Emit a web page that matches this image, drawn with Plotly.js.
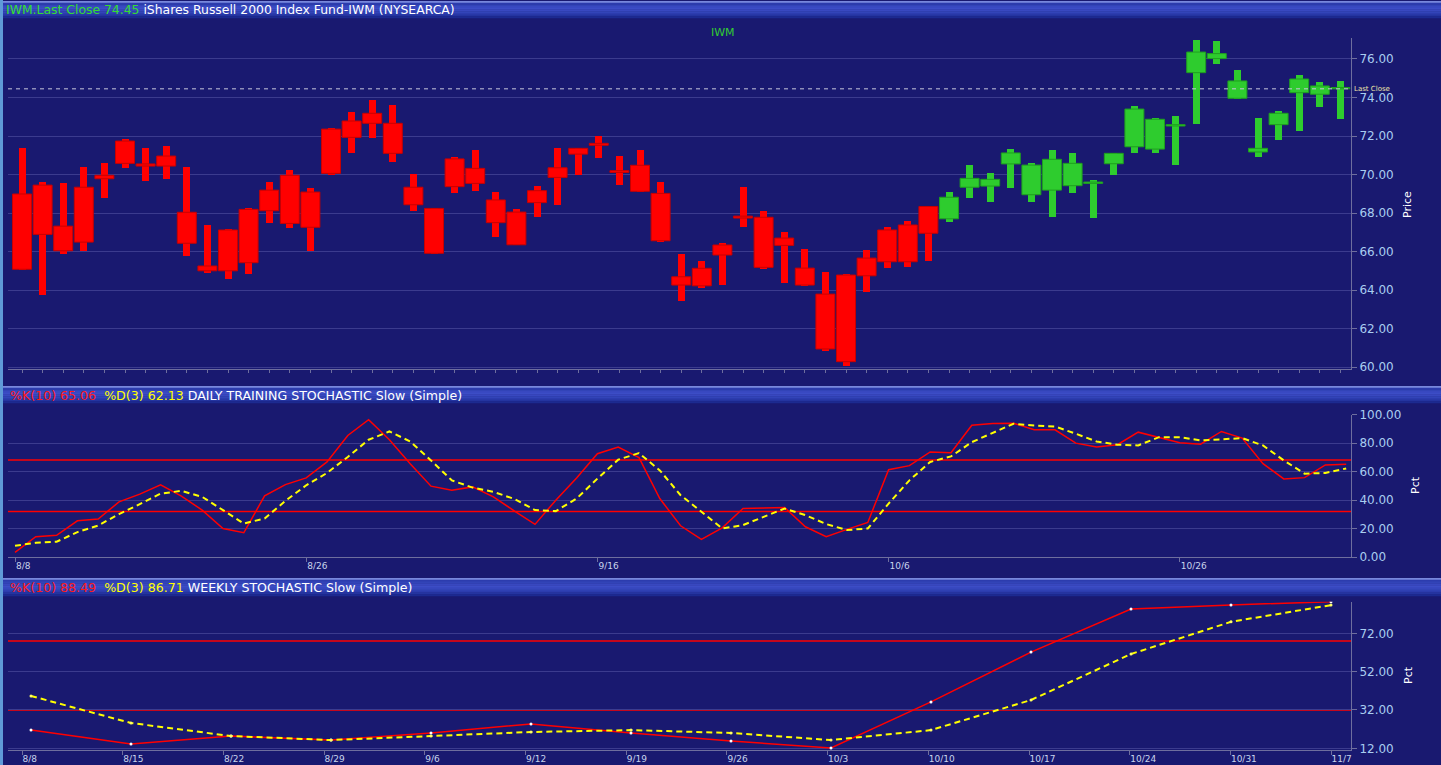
<!DOCTYPE html>
<html><head><meta charset="utf-8">
<script src="https://cdn.plot.ly/plotly-3.0.1.min.js"></script>
<style>html,body{margin:0;padding:0;background:#191970;overflow:hidden}#chart{width:1441px;height:765px}</style>
</head><body><div id="chart"></div>
<script>
// ---------- DATA ----------
const symbol = 'IWM';
const fundName = 'iShares Russell 2000 Index Fund-IWM (NYSEARCA)';
const dates = ['8/8','8/9','8/10','8/11','8/12','8/15','8/16','8/17','8/18','8/19','8/22','8/23','8/24','8/25','8/26','8/29','8/30','8/31',
 '9/1','9/2','9/6','9/7','9/8','9/9','9/12','9/13','9/14','9/15','9/16','9/19','9/20','9/21','9/22','9/23','9/26','9/27','9/28','9/29','9/30',
 '10/3','10/4','10/5','10/6','10/7','10/10','10/11','10/12','10/13','10/14','10/17','10/18','10/19','10/20','10/21','10/24','10/25','10/26','10/27','10/28','10/31',
 '11/1','11/2','11/3','11/4','11/7'];
const open  = [68.99,69.45,67.32,69.34,69.96,71.74,70.55,70.96,68.04,65.25,67.12,68.19,69.19,69.96,69.09,72.36,72.78,73.18,72.66,69.34,
 68.24,70.81,70.32,68.68,68.05,69.16,70.35,71.36,71.62,70.20,70.48,69.02,64.69,65.13,66.34,67.84,67.78,66.70,65.14,63.79,
 64.78,65.66,67.12,67.38,68.34,67.70,69.34,69.40,70.55,68.95,69.19,69.42,69.54,70.56,71.44,71.32,72.52,75.29,76.02,73.96,
 71.17,72.59,74.25,74.17,74.52];
const close = [65.08,66.89,66.04,66.49,69.78,70.58,70.44,70.44,66.43,65.00,65.00,65.42,68.12,67.46,67.26,70.06,71.93,72.66,71.10,68.43,
 65.91,69.37,69.54,67.50,66.35,68.54,69.85,71.06,71.52,70.11,69.13,66.56,64.26,64.22,65.82,67.74,65.18,66.32,64.26,60.94,
 60.28,64.74,65.47,65.47,66.95,68.82,69.80,69.75,71.12,70.49,70.79,70.58,69.61,71.10,73.40,72.87,72.59,76.36,76.28,74.86,
 71.36,73.18,74.96,74.60,74.45];
const high  = [71.39,69.61,69.54,70.41,70.58,71.83,71.39,71.50,70.37,67.38,67.17,68.28,69.61,70.25,69.28,72.40,73.25,73.87,73.61,70.01,
 68.28,70.89,71.27,69.11,68.21,69.42,71.38,71.39,72.00,70.98,71.26,69.59,65.87,65.49,66.44,69.35,68.10,67.00,66.13,64.92,
 64.83,66.09,67.27,67.58,68.36,69.09,70.51,70.08,71.32,70.60,71.27,71.13,69.71,71.13,73.56,72.92,73.04,76.97,76.92,75.43,
 72.95,73.30,75.18,74.82,74.86];
const low   = [65.05,63.74,65.85,66.04,68.80,70.35,69.65,69.75,65.78,64.87,64.56,64.83,67.50,67.24,66.04,70.00,71.12,71.91,70.67,68.09,
 65.88,69.05,69.16,66.74,66.33,67.81,68.43,69.97,70.87,69.44,69.10,66.51,63.44,64.09,64.26,67.26,65.09,64.35,64.22,60.83,
 60.07,63.91,65.14,65.18,65.52,67.53,68.80,68.56,69.28,68.59,67.81,69.05,67.72,69.99,71.13,71.13,70.51,72.62,75.74,73.92,
 70.93,71.81,72.28,73.52,72.88];
const trendUpFrom = '10/11';   // candles drawn green from this session on

const dailyK = [3.3,14.2,15.2,25.4,26.6,38.7,44.1,50.6,42.7,32.9,20.0,17.0,42.9,50.8,55.5,66.7,85.3,96.3,82.3,65.5,
 49.7,46.9,49.2,42.2,32.4,22.9,39.9,55.5,72.5,77.2,69.7,41.0,21.9,12.4,20.5,34.0,34.3,34.7,21.2,14.2,
 19.4,24.2,61.3,64.1,73.7,73.2,92.5,93.7,93.9,89.3,89.3,79.9,77.2,78.8,87.6,84.1,80.2,79.2,88.1,83.4,
 65.5,54.8,55.7,64.6,65.06];
const dailyD = [7.9,10.0,10.7,17.5,22.1,30.1,37.1,44.5,46.4,42.2,32.9,23.5,27.0,39.4,50.3,59.0,70.2,82.3,88.1,81.1,
 67.8,53.8,48.7,45.7,40.8,32.9,32.2,41.0,55.0,68.3,72.9,60.8,43.4,31.7,20.0,22.4,28.2,34.0,29.4,23.1,
 18.9,20.0,37.5,53.8,66.7,70.6,80.6,87.2,93.5,92.3,91.6,86.5,81.1,78.8,78.3,84.1,84.1,81.8,82.5,83.4,
 78.3,67.8,58.5,59.0,62.13];

const weeks = ['8/8','8/15','8/22','8/29','9/6','9/12','9/19','9/26','10/3','10/10','10/17','10/24','10/31','11/7'];
const weeklyK = [21.5,14.2,18.4,16.3,20.0,24.7,20.0,15.8,12.2,36.2,62.2,84.7,86.8,88.49];
const weeklyD = [39.3,25.2,18.4,16.3,18.4,20.5,21.5,20.0,16.3,21.5,37.2,61.2,78.0,86.71];

const stochBands = [68, 32];
const priceTicks = [60,62,64,66,68,70,72,74,76];
const dailyTicks = [0,20,40,60,80,100];
const weeklyTicks = [12,32,52,72];
const dailyLabelDates = ['8/8','8/26','9/16','10/6','10/26'];

// ---------- helpers ----------
const W = 1441, H = 765;
const px = v => v / W;
const py = v => 1 - v / H;
const idx = dates.map((_, i) => i);
const wIdx = weeks.map((_, i) => i);
const upStart = dates.indexOf(trendUpFrom);
const isUp = idx.map(i => i >= upStart);
const RED = '#ff0000', RED_EDGE = '#c80000', GREEN = '#2ecc2e', GREEN_EDGE = '#1f9f1f';
const lastClose = close[close.length - 1];
const font = 'DejaVu Sans, Verdana, sans-serif';

const bodyBase = idx.map(i => Math.min(open[i], close[i]));
const bodyH = idx.map(i => Math.abs(open[i] - close[i]));

const traces = [
  { type: 'bar', x: idx, base: low, y: idx.map(i => high[i] - low[i]), width: 0.34,
    marker: { color: idx.map(i => isUp[i] ? GREEN : RED), line: { width: 0 } },
    xaxis: 'x', yaxis: 'y', hoverinfo: 'skip', showlegend: false },
  { type: 'bar', x: idx, base: bodyBase, y: bodyH, width: 0.92,
    marker: { color: idx.map(i => isUp[i] ? GREEN : RED),
              line: { width: 1, color: idx.map(i => isUp[i] ? GREEN_EDGE : RED_EDGE) } },
    customdata: dates, xaxis: 'x', yaxis: 'y', showlegend: false },
  { type: 'scatter', mode: 'lines', x: idx, y: dailyK, line: { color: '#ff0000', width: 1.5 },
    xaxis: 'x2', yaxis: 'y2', showlegend: false },
  { type: 'scatter', mode: 'lines', x: idx, y: dailyD, line: { color: '#ffff00', width: 2, dash: '6px,4px' },
    xaxis: 'x2', yaxis: 'y2', showlegend: false },
  { type: 'scatter', mode: 'lines+markers', x: wIdx, y: weeklyK,
    line: { color: '#ff0000', width: 1.5 }, marker: { size: 3, color: '#ffffff' },
    xaxis: 'x3', yaxis: 'y3', showlegend: false },
  { type: 'scatter', mode: 'lines+markers', x: wIdx, y: weeklyD,
    line: { color: '#ffff00', width: 2, dash: '6px,4px' }, marker: { size: 3, color: '#ffff66' },
    xaxis: 'x3', yaxis: 'y3', showlegend: false },
  // carrier for the weekly date-label axis (draws nothing)
  { type: 'scatter', mode: 'none', x: wIdx, y: weeklyK, xaxis: 'x4', yaxis: 'y3', hoverinfo: 'skip', showlegend: false }
];

const xDom = [px(8), px(1351)];
const gridC = '#3b3b8e', axC = '#6e6e9e', tickFontY = { family: font, size: 12, color: '#a9cdf0' },
      tickFontX = { family: font, size: 9, color: '#c8d4ec' };
const yCommon = { side: 'right', showgrid: true, gridcolor: gridC, gridwidth: 1, showline: true, linecolor: axC,
  ticks: 'outside', ticklen: 5, tickcolor: axC, tickfont: tickFontY, zeroline: false, fixedrange: true };

// header bars (gradient imitation)
const shapes = [];
const barCols = ['#7888dc','#2c3cae','#3244b8','#3848c0','#3c4dc6','#3848c0','#3244b8','#2c3cae','#2434a0','#1c2a90'];
function headerBar(y0, y1) {
  const n = barCols.length, h = (y1 - y0) / n;
  barCols.forEach((c, k) => shapes.push({ type: 'rect', xref: 'paper', yref: 'paper', layer: 'below',
    x0: 0, x1: 1, y0: py(y0 + k * h), y1: py(y0 + (k + 1) * h + 0.3), line: { width: 0 }, fillcolor: c }));
}
headerBar(1, 18);
headerBar(386, 403);
headerBar(578, 596);
// left frame edge
shapes.push({ type: 'rect', xref: 'paper', yref: 'paper', x0: 0, x1: px(3), y0: 0, y1: 1, line: { width: 0 }, fillcolor: '#5f9ad8', layer: 'above' });
// stochastic bands
stochBands.forEach(v => {
  shapes.push({ type: 'line', xref: 'paper', yref: 'y2', x0: xDom[0], x1: xDom[1], y0: v, y1: v, line: { color: '#ff0000', width: 1.5 }, layer: 'below' });
  shapes.push({ type: 'line', xref: 'paper', yref: 'y3', x0: xDom[0], x1: xDom[1], y0: v, y1: v, line: { color: '#ff0000', width: 1.5 }, layer: 'below' });
});
// last close line
shapes.push({ type: 'line', xref: 'paper', yref: 'y', x0: xDom[0], x1: xDom[1], y0: lastClose, y1: lastClose,
  line: { color: '#c8c8dc', width: 1, dash: '4px,4px' } });

const sp = '\u00a0';
const annotations = [
  { xref: 'paper', yref: 'paper', x: px(4), y: py(10), xanchor: 'left', yanchor: 'middle', showarrow: false,
    font: { family: font, size: 12.4, color: '#ffffff' },
    text: `<span style="color:#33dd33">${symbol}.Last Close ${lastClose.toFixed(2)}</span> ${fundName}` },
  { xref: 'paper', yref: 'paper', x: px(8), y: py(395), xanchor: 'left', yanchor: 'middle', showarrow: false,
    font: { family: font, size: 12.6, color: '#ffffff' },
    text: `<span style="color:#ff1a1a">%K(10) ${dailyK[dailyK.length-1].toFixed(2)}</span>${sp}${sp}<span style="color:#ffff00">%D(3) ${dailyD[dailyD.length-1].toFixed(2)}</span> DAILY TRAINING STOCHASTIC Slow (Simple)` },
  { xref: 'paper', yref: 'paper', x: px(8), y: py(587), xanchor: 'left', yanchor: 'middle', showarrow: false,
    font: { family: font, size: 12.6, color: '#ffffff' },
    text: `<span style="color:#ff1a1a">%K(10) ${weeklyK[weeklyK.length-1].toFixed(2)}</span>${sp}${sp}<span style="color:#ffff00">%D(3) ${weeklyD[weeklyD.length-1].toFixed(2)}</span> WEEKLY STOCHASTIC Slow (Simple)` },
  { xref: 'paper', yref: 'paper', x: px(723), y: py(33), xanchor: 'center', yanchor: 'middle', showarrow: false,
    font: { family: font, size: 11, color: '#33cc33' }, text: symbol },
  { xref: 'paper', yref: 'y', x: px(1352), y: lastClose, xanchor: 'left', yanchor: 'middle', showarrow: false,
    font: { family: font, size: 7, color: '#eee4a8' }, text: 'Last Close' },
  { xref: 'paper', yref: 'paper', x: px(1408), y: py(205), xanchor: 'center', yanchor: 'middle', textangle: -90, showarrow: false,
    font: { family: font, size: 11, color: '#ffffff' }, text: 'Price' },
  { xref: 'paper', yref: 'paper', x: px(1415), y: py(485), xanchor: 'center', yanchor: 'middle', textangle: -90, showarrow: false,
    font: { family: font, size: 11, color: '#ffffff' }, text: 'Pct' },
  { xref: 'paper', yref: 'paper', x: px(1408), y: py(675), xanchor: 'center', yanchor: 'middle', textangle: -90, showarrow: false,
    font: { family: font, size: 11, color: '#ffffff' }, text: 'Pct' }
];

const layout = {
  width: W, height: H, margin: { l: 0, r: 0, t: 0, b: 0 },
  paper_bgcolor: '#191970', plot_bgcolor: '#191970',
  barmode: 'overlay', bargap: 0, showlegend: false,
  xaxis: { domain: xDom, range: [(8 - 22) / 20.6, (1351 - 22) / 20.6], anchor: 'y', showgrid: false, zeroline: false,
    showline: true, linecolor: axC, tickvals: idx, showticklabels: false, ticks: 'outside', ticklen: 3, tickcolor: axC, fixedrange: true },
  yaxis: Object.assign({}, yCommon, { domain: [py(369), py(38)], range: [59.9, 77.09], anchor: 'x',
    tickvals: priceTicks, ticktext: priceTicks.map(v => v.toFixed(2)) }),
  xaxis2: { domain: xDom, range: [(8 - 15) / 20.8, (1351 - 15) / 20.8], anchor: 'y2', showgrid: false, zeroline: false,
    showline: true, linecolor: axC, tickvals: dailyLabelDates.map(d => dates.indexOf(d)), ticktext: dailyLabelDates,
    ticks: 'outside', ticklen: 4, tickcolor: axC, tickfont: tickFontX, ticklabelposition: 'outside right', fixedrange: true },
  yaxis2: Object.assign({}, yCommon, { domain: [py(557), py(414.5)], range: [0, 100], anchor: 'x2',
    tickvals: dailyTicks, ticktext: dailyTicks.map(v => v.toFixed(2)) }),
  // weekly data axis (points)
  xaxis3: { domain: xDom, range: [(8 - 31) / 100, (1351 - 31) / 100], anchor: 'y3', showgrid: false, zeroline: false,
    showline: true, linecolor: axC, showticklabels: false, ticks: '', fixedrange: true },
  // weekly date-label axis
  xaxis4: { overlaying: 'x3', anchor: 'y3', side: 'bottom', range: [(8 - 22) / 100.7, (1351 - 22) / 100.7],
    showgrid: false, zeroline: false, showline: false, tickvals: wIdx, ticktext: weeks,
    ticks: 'outside', ticklen: 4, tickcolor: axC, tickfont: tickFontX, ticklabelposition: 'outside right', fixedrange: true },
  yaxis3: Object.assign({}, yCommon, { domain: [py(750.3), py(601.7)], range: [10.96, 88.49], anchor: 'x3',
    tickvals: weeklyTicks, ticktext: weeklyTicks.map(v => v.toFixed(2)) }),
  shapes: shapes, annotations: annotations
};

Plotly.newPlot('chart', traces, layout, { displayModeBar: false, staticPlot: true });
</script></body></html>
